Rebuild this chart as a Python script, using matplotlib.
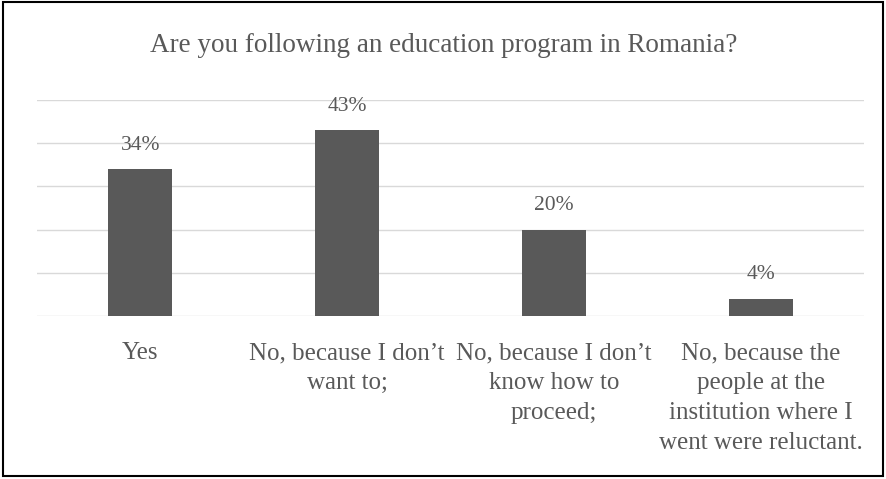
import matplotlib.pyplot as plt
from matplotlib.patches import Rectangle

categories = ["Yes", "No, because I don\u2019t\nwant to;", "No, because I don\u2019t\nknow how to\nproceed;",
              "No, because the\npeople at the\ninstitution where I\nwent were reluctant."]
values = [34, 43, 20, 4]
labels = ["34%", "43%", "20%", "4%"]

plt.rcParams['font.family'] = ['Liberation Serif', 'DejaVu Serif']
grey = '#595959'

fig = plt.figure(figsize=(8.87, 4.79), dpi=100)
ax = fig.add_axes([37 / 887, 1 - 316 / 479, 827 / 887, 216 / 479])

x = range(len(values))
ax.bar(x, values, width=0.31, color=grey, zorder=3)
for i, v in enumerate(values):
    ax.text(i, v + 3.3, labels[i], ha='center', va='bottom', fontsize=15.5, color=grey)

ax.set_xlim(-0.5, len(values) - 0.5)
ax.set_ylim(0, 50)
ax.set_yticks([0, 10, 20, 30, 40, 50])
ax.yaxis.grid(True, color='#d9d9d9', linewidth=1, zorder=0)
ax.set_yticklabels([])
ax.tick_params(axis='both', length=0)
ax.set_xticks(list(x))
ax.set_xticklabels(categories, fontsize=18, color=grey, linespacing=1.47, va='top')
ax.tick_params(axis='x', pad=19)
for s in ax.spines.values():
    s.set_visible(False)

fig.text(0.5, 1 - 46 / 479, "Are you following an education program in Romania?",
         ha='center', va='center', fontsize=19.5, color=grey)

fig.patches.append(Rectangle((3 / 887, 3 / 479), 880 / 887, 474 / 479, transform=fig.transFigure,
                             fill=False, edgecolor='black', linewidth=1.5))

fig.savefig('out.png', dpi=100)
